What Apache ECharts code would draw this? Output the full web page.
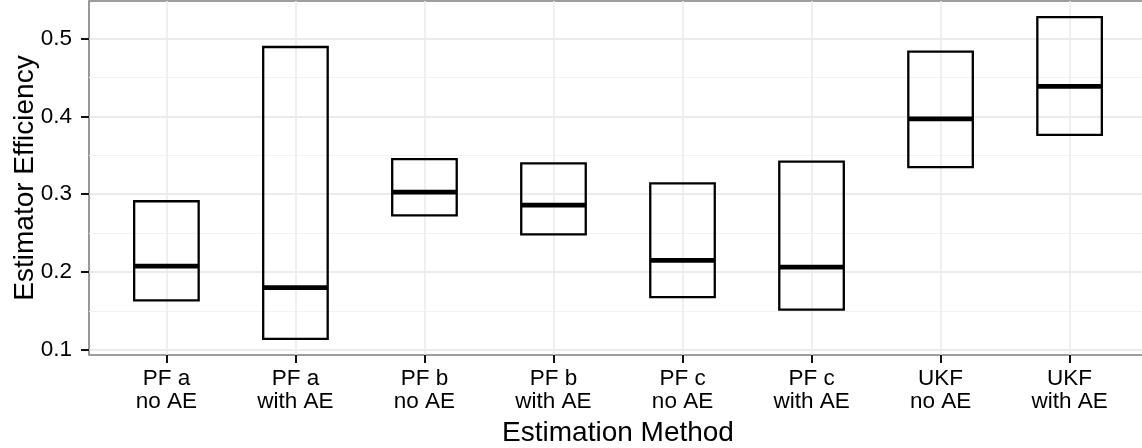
<!DOCTYPE html>
<html>
<head>
<meta charset="utf-8">
<script src="https://cdn.jsdelivr.net/npm/echarts@6/dist/echarts.min.js"></script>
<style>
  html, body { margin: 0; padding: 0; background: #fff; }
  #chart { width: 1142px; height: 448px; }
</style>
</head>
<body>
<div id="chart"></div>
<script>
// Estimation methods (two-line tick labels)
const methodNames = ['PF a', 'PF a', 'PF b', 'PF b', 'PF c', 'PF c', 'UKF', 'UKF'];
const aeVariants = ['no AE', 'with AE', 'no AE', 'with AE', 'no AE', 'with AE', 'no AE', 'with AE'];

// Crossbar statistics of estimator efficiency per method
const lowerValues  = [0.1635, 0.1138, 0.2727, 0.2483, 0.1677, 0.1514, 0.3348, 0.3764];
const medianValues = [0.2076, 0.1797, 0.3027, 0.2860, 0.2149, 0.2063, 0.3969, 0.4389];
const upperValues  = [0.2910, 0.4895, 0.3453, 0.3398, 0.3141, 0.3420, 0.4835, 0.5280];

// Axis ticks and grid lines
const yMajorTicks = [0.1, 0.2, 0.3, 0.4, 0.5];
const yMinorTicks = [0.15, 0.25, 0.35, 0.45];
const xTickPositions = [0, 1, 2, 3, 4, 5, 6, 7];

const FONT = 'Liberation Sans';

// Padded ranges (5% on the value axis, 0.6 units on the discrete axis)
const yLo = Math.min(...lowerValues), yHi = Math.max(...upperValues);
const yPad = (yHi - yLo) * 0.05;

const boxData = xTickPositions.map((i) => [i, lowerValues[i], medianValues[i], upperValues[i]]);

const gridLines = [];
yMinorTicks.forEach(v => gridLines.push({ yAxis: v, lineStyle: { type: 'solid', color: '#f2f2f2', width: 1.2 } }));
yMajorTicks.forEach(v => gridLines.push({ yAxis: v, lineStyle: { type: 'solid', color: '#e5e5e5', width: 1.6 } }));
xTickPositions.forEach(v => gridLines.push({ xAxis: v, lineStyle: { type: 'solid', color: '#ebebeb', width: 1.6 } }));

const chart = echarts.init(document.getElementById('chart'), null, { renderer: 'canvas' });

chart.setOption({
  animation: false,
  backgroundColor: '#fff',
  textStyle: { fontFamily: FONT },
  grid: {
    left: 89, top: 1, width: 1058, height: 354,
    show: true, borderColor: '#7f7f7f', borderWidth: 1.6, backgroundColor: 'transparent',
    containLabel: false,
    outerBoundsMode: 'none'
  },
  xAxis: {
    type: 'value',
    min: -0.6, max: 7.6,
    axisLine: { show: false, onZero: false },
    splitLine: { show: false },
    axisTick: { show: true, length: 8, lineStyle: { color: '#111', width: 2 }, customValues: xTickPositions },
    axisLabel: {
      customValues: xTickPositions,
      margin: 12,
      color: '#000', fontFamily: FONT, fontSize: 22.5, lineHeight: 23,
      formatter: (v) => methodNames[Math.round(v)] + '\n' + aeVariants[Math.round(v)]
    },
    name: 'Estimation Method',
    nameLocation: 'middle',
    nameGap: 64,
    nameMoveOverlap: false,
    nameTextStyle: { color: '#000', fontFamily: FONT, fontSize: 28 }
  },
  yAxis: {
    type: 'value',
    min: yLo - yPad, max: yHi + yPad,
    axisLine: { show: false, onZero: false },
    splitLine: { show: false },
    axisTick: { show: true, length: 8, lineStyle: { color: '#111', width: 2 }, customValues: yMajorTicks },
    axisLabel: {
      customValues: yMajorTicks,
      margin: 17,
      color: '#000', fontFamily: FONT, fontSize: 22.5,
      formatter: (v) => v.toFixed(1)
    },
    name: 'Estimator Efficiency',
    nameLocation: 'middle',
    nameRotate: 90,
    nameGap: 50,
    nameMoveOverlap: false,
    nameTextStyle: { color: '#000', fontFamily: FONT, fontSize: 28 }
  },
  series: [
    {
      type: 'custom',
      data: boxData,
      encode: { x: 0, y: [1, 2, 3] },
      clip: false,
      markLine: {
        silent: true,
        symbol: 'none',
        label: { show: false },
        z: 1,
        data: gridLines
      },
      renderItem: (params, api) => {
        const x = api.value(0);
        const half = 0.25;
        const tl = api.coord([x - half, api.value(3)]);
        const br = api.coord([x + half, api.value(1)]);
        const ml = api.coord([x - half, api.value(2)]);
        const mr = api.coord([x + half, api.value(2)]);
        return {
          type: 'group',
          z2: 10,
          children: [
            {
              type: 'rect',
              shape: { x: tl[0], y: tl[1], width: br[0] - tl[0], height: br[1] - tl[1] },
              style: { fill: 'none', stroke: '#000', lineWidth: 2.3 }
            },
            {
              type: 'line',
              shape: { x1: ml[0], y1: ml[1], x2: mr[0], y2: mr[1] },
              style: { stroke: '#000', lineWidth: 4.8 }
            }
          ]
        };
      },
      z: 5
    }
  ]
});
</script>
</body>
</html>
